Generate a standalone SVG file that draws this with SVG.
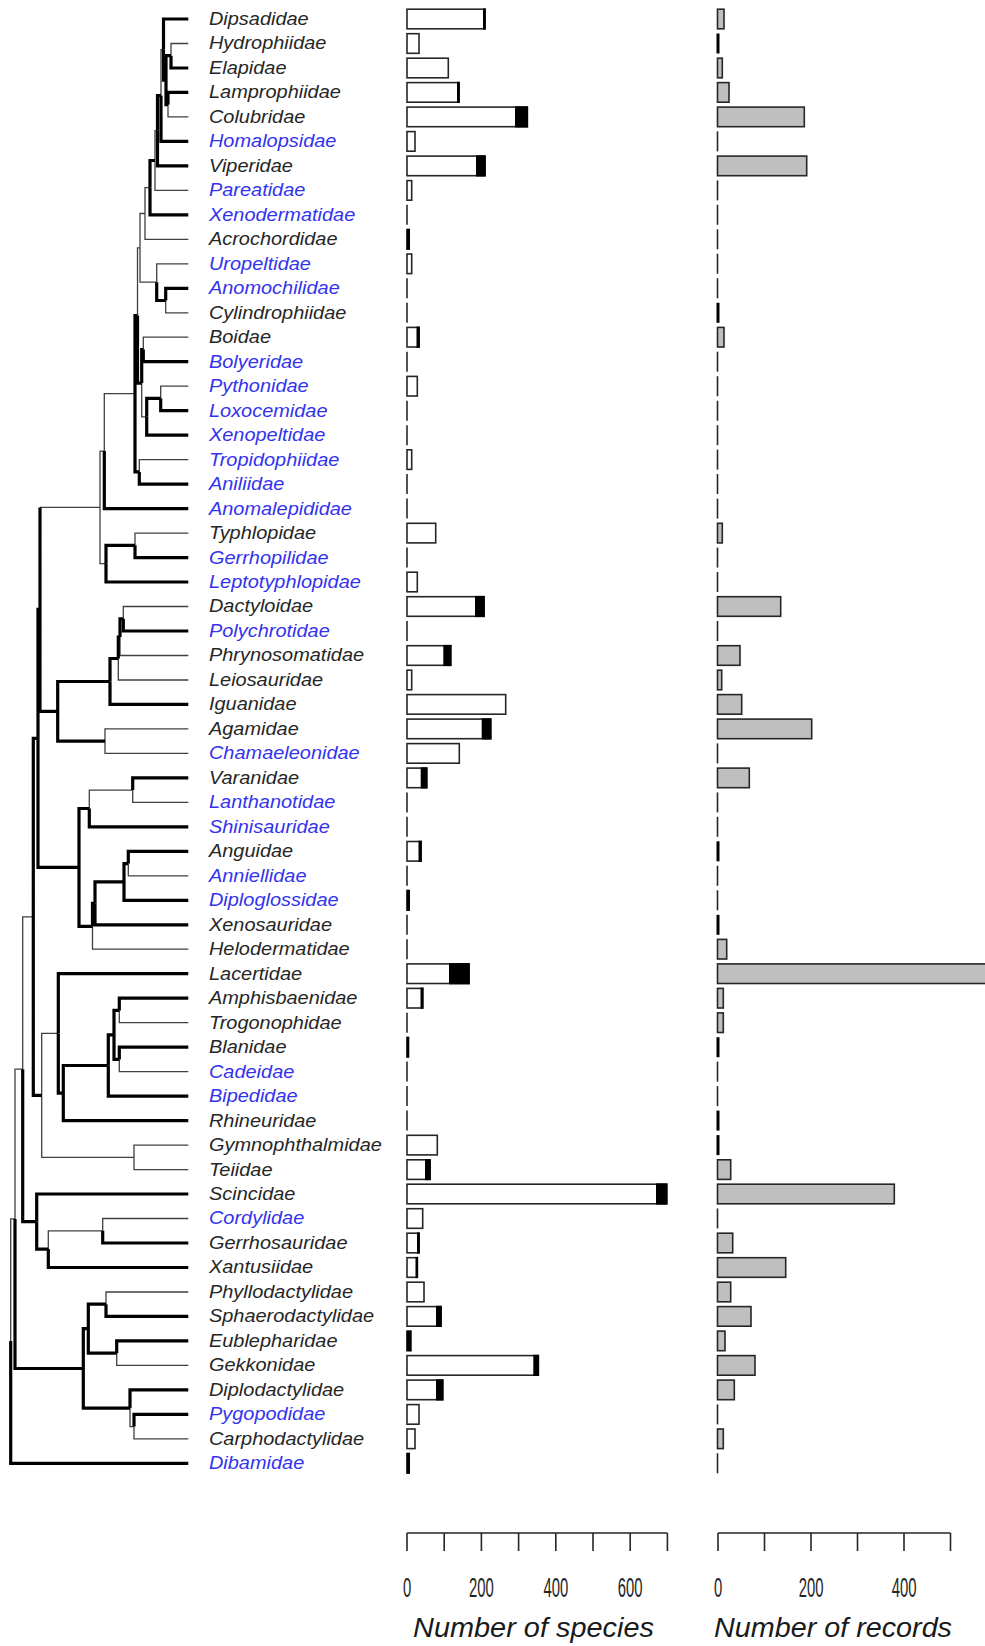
<svg xmlns="http://www.w3.org/2000/svg" width="985" height="1646" viewBox="0 0 985 1646">
<style>
.t{fill:none;stroke:#404040;stroke-width:1.3}
.T{fill:none;stroke:#000;stroke-width:3.2}
.lab{font-family:"Liberation Sans",Arial,sans-serif;font-style:italic;font-size:17.5px;fill:#262626}
.b{fill:#3333ee}
.sb{fill:#fff;stroke:#262626;stroke-width:1.6}
.rb{fill:#bfbfbf;stroke:#262626;stroke-width:1.6}
.k{fill:#000}
.z{stroke:#262626;stroke-width:1.6}
.zk{stroke:#000;stroke-width:3}
.ax{fill:none;stroke:#262626;stroke-width:1.6}
.num{font-family:"Liberation Sans",Arial,sans-serif;font-size:27px;fill:#262626;text-anchor:middle}
.ttl{font-family:"Liberation Sans",Arial,sans-serif;font-style:italic;font-size:28px;fill:#1a1a1a}
</style>
<rect width="985" height="1646" fill="#fff"/>
<g id="connectors">
<path class="t" d="M171 55.7V43.5H188.3M168 104.7V116.9H188.3M155 160.5V190.4H188.3M145 213.5V239.3H188.3M156.7 282.2V263.8H188.3M165.7 300.5V312.8H188.3M143.3 349.5V337.2H188.3M160.7 398.4V386.2H188.3M139.3 471.9V459.6H188.3M135 545.3V533.1H188.3M123.3 618.8V606.5H188.3M120 637.1V655.5H188.3M118.3 658.5V680H188.3M105 741.2V728.9H188.3M105 741.2V753.4H188.3M132.7 790.1V802.4H188.3M128.3 863.6V875.8H188.3M92.5 926.3V949.2H188.3M119.3 1010.4V1022.7H188.3M119.3 1059.4V1071.6H188.3M134 1157.3V1145.1H188.3M134 1157.3V1169.6H188.3M102.7 1230.8V1218.5H188.3M106 1304.2V1292H188.3M116.7 1353.2V1365.4H188.3M134 1426.6V1438.8H188.3"/>
<path class="t" d="M161 95.5V49.6H163.5M155 160.5V130.7H157.5M145 213.5V187.7H150M140 247.8V213.5H145M140 247.8V282.2H156.7M137.5 315.5V247.8H140M141.7 383.1V416.8H146.7M104.3 451.1V393.7H135M100 507.4V451.1H104.3M100 507.4V563.7H106M40 507.4H100M89.3 808.5V790.1H132.7M41.7 1095.4V1033.4H58.3M41.7 1095.4V1157.3H134M22.7 1069.2V916.9H33.3M48.3 1249.1V1230.8H102.7M15 1218.9V1069.2H22.7M130 1408.2V1426.6H134M10.7 1341.1V1218.9H15"/>
<path class="T" d="M163.5 49.6V19H188.3M171 55.7V68H188.3M168 104.7V92.4H188.3M161 95.5V141.4H188.3M157.5 130.7V165.9H188.3M150 187.7V214.8H188.3M165.7 300.5V288.3H188.3M143.3 349.5V361.7H188.3M160.7 398.4V410.7H188.3M146.7 416.8V435.2H188.3M139.3 471.9V484.1H188.3M104.3 451.1V508.6H188.3M135 545.3V557.6H188.3M106 563.7V582H188.3M123.3 618.8V631H188.3M110 681.5V704.4H188.3M132.7 790.1V777.9H188.3M89.3 808.5V826.8H188.3M128.3 863.6V851.3H188.3M124 881.9V900.3H188.3M95 903.3V924.8H188.3M58.3 1033.4V973.7H188.3M119.3 1010.4V998.2H188.3M119.3 1059.4V1047.2H188.3M108.3 1065.5V1096.1H188.3M63.3 1093.1V1120.6H188.3M36.7 1221.6V1194H188.3M102.7 1230.8V1243H188.3M48.3 1249.1V1267.5H188.3M106 1304.2V1316.4H188.3M116.7 1353.2V1340.9H188.3M130 1408.2V1389.9H188.3M134 1426.6V1414.4H188.3M10.7 1341.1V1463.3H188.3"/>
<path class="T" d="M166 80.2V55.7H171M166 80.2V104.7H168M163.5 49.6V80.2H166M157.5 130.7V95.5H161M150 187.7V160.5H155M156.7 282.2V300.5H165.7M137.5 315.5V383.1H141.7M141.7 383.1V349.5H143.3M146.7 416.8V398.4H160.7M135 393.7V315.5H137.5M135 393.7V471.9H139.3M106 563.7V545.3H135M40 609.4V507.4M40 609.4V711.3H57.7M57.7 711.3V681.5H110M57.7 711.3V741.2H105M110 681.5V658.5H118.3M118.3 658.5V637.1H120M120 637.1V618.8H123.3M38 738.4V609.4H40M38 738.4V867.4H79M79 867.4V808.5H89.3M79 867.4V926.3H92.5M92.5 926.3V903.3H95M95 903.3V881.9H124M124 881.9V863.6H128.3M33.3 916.9V738.4H38M33.3 916.9V1095.4H41.7M58.3 1033.4V1093.1H63.3M63.3 1093.1V1065.5H108.3M108.3 1065.5V1034.9H114M114 1034.9V1010.4H119.3M114 1034.9V1059.4H119.3M22.7 1069.2V1221.6H36.7M36.7 1221.6V1249.1H48.3M15 1218.9V1368.5H83.3M83.3 1368.5V1328.7H88.3M83.3 1368.5V1408.2H130M88.3 1328.7V1304.2H106M88.3 1328.7V1353.2H116.7"/>
</g>
<g id="taxa">
<g id="n1"><text class="lab" x="183.3" y="25" transform="scale(1.14,1)">Dipsadidae</text><rect class="sb" x="407" y="9.2" width="78" height="19.6"/><rect class="k" x="483" y="8.4" width="2.8" height="21.2"/><rect class="rb" x="717.5" y="9.2" width="6.5" height="19.6"/></g>
<g id="n2"><text class="lab" x="183.3" y="49.5" transform="scale(1.14,1)">Hydrophiidae</text><rect class="sb" x="407" y="33.7" width="12" height="19.6"/><line class="zk" x1="718" y1="33.5" x2="718" y2="53.5"/></g>
<g id="n3"><text class="lab" x="183.3" y="74" transform="scale(1.14,1)">Elapidae</text><rect class="sb" x="407" y="58.2" width="41.3" height="19.6"/><rect class="rb" x="717.5" y="58.2" width="4.8" height="19.6"/></g>
<g id="n4"><text class="lab" x="183.3" y="98.4" transform="scale(1.14,1)">Lamprophiidae</text><rect class="sb" x="407" y="82.6" width="52" height="19.6"/><rect class="k" x="457" y="81.8" width="2.8" height="21.2"/><rect class="rb" x="717.5" y="82.6" width="11.5" height="19.6"/></g>
<g id="n5"><text class="lab" x="183.3" y="122.9" transform="scale(1.14,1)">Colubridae</text><rect class="sb" x="407" y="107.1" width="120.3" height="19.6"/><rect class="k" x="515" y="106.3" width="13.1" height="21.2"/><rect class="rb" x="717.5" y="107.1" width="86.8" height="19.6"/></g>
<g id="n6"><text class="lab b" x="183.3" y="147.4" transform="scale(1.14,1)">Homalopsidae</text><rect class="sb" x="407" y="131.6" width="8" height="19.6"/><line class="z" x1="717.5" y1="131.4" x2="717.5" y2="151.4"/></g>
<g id="n7"><text class="lab" x="183.3" y="171.9" transform="scale(1.14,1)">Viperidae</text><rect class="sb" x="407" y="156.1" width="78" height="19.6"/><rect class="k" x="476" y="155.3" width="9.8" height="21.2"/><rect class="rb" x="717.5" y="156.1" width="89.2" height="19.6"/></g>
<g id="n8"><text class="lab b" x="183.3" y="196.4" transform="scale(1.14,1)">Pareatidae</text><rect class="sb" x="407" y="180.6" width="4.7" height="19.6"/><line class="z" x1="717.5" y1="180.4" x2="717.5" y2="200.4"/></g>
<g id="n9"><text class="lab b" x="183.3" y="220.8" transform="scale(1.14,1)">Xenodermatidae</text><line class="z" x1="407" y1="204.8" x2="407" y2="224.8"/><line class="z" x1="717.5" y1="204.8" x2="717.5" y2="224.8"/></g>
<g id="n10"><text class="lab" x="183.3" y="245.3" transform="scale(1.14,1)">Acrochordidae</text><rect class="k" x="406.2" y="228.7" width="3.8" height="21.2"/><line class="z" x1="717.5" y1="229.3" x2="717.5" y2="249.3"/></g>
<g id="n11"><text class="lab b" x="183.3" y="269.8" transform="scale(1.14,1)">Uropeltidae</text><rect class="sb" x="407" y="254" width="4.7" height="19.6"/><line class="z" x1="717.5" y1="253.8" x2="717.5" y2="273.8"/></g>
<g id="n12"><text class="lab b" x="183.3" y="294.3" transform="scale(1.14,1)">Anomochilidae</text><line class="z" x1="407" y1="278.3" x2="407" y2="298.3"/><line class="z" x1="717.5" y1="278.3" x2="717.5" y2="298.3"/></g>
<g id="n13"><text class="lab" x="183.3" y="318.8" transform="scale(1.14,1)">Cylindrophiidae</text><line class="z" x1="407" y1="302.8" x2="407" y2="322.8"/><line class="zk" x1="718" y1="302.8" x2="718" y2="322.8"/></g>
<g id="n14"><text class="lab" x="183.3" y="343.2" transform="scale(1.14,1)">Boidae</text><rect class="sb" x="407" y="327.4" width="12" height="19.6"/><rect class="k" x="416.5" y="326.6" width="3.3" height="21.2"/><rect class="rb" x="717.5" y="327.4" width="6.5" height="19.6"/></g>
<g id="n15"><text class="lab b" x="183.3" y="367.7" transform="scale(1.14,1)">Bolyeridae</text><line class="z" x1="407" y1="351.7" x2="407" y2="371.7"/><line class="z" x1="717.5" y1="351.7" x2="717.5" y2="371.7"/></g>
<g id="n16"><text class="lab b" x="183.3" y="392.2" transform="scale(1.14,1)">Pythonidae</text><rect class="sb" x="407" y="376.4" width="10.3" height="19.6"/><line class="z" x1="717.5" y1="376.2" x2="717.5" y2="396.2"/></g>
<g id="n17"><text class="lab b" x="183.3" y="416.7" transform="scale(1.14,1)">Loxocemidae</text><line class="z" x1="407" y1="400.7" x2="407" y2="420.7"/><line class="z" x1="717.5" y1="400.7" x2="717.5" y2="420.7"/></g>
<g id="n18"><text class="lab b" x="183.3" y="441.2" transform="scale(1.14,1)">Xenopeltidae</text><line class="z" x1="407" y1="425.2" x2="407" y2="445.2"/><line class="z" x1="717.5" y1="425.2" x2="717.5" y2="445.2"/></g>
<g id="n19"><text class="lab b" x="183.3" y="465.6" transform="scale(1.14,1)">Tropidophiidae</text><rect class="sb" x="407" y="449.8" width="4.7" height="19.6"/><line class="z" x1="717.5" y1="449.6" x2="717.5" y2="469.6"/></g>
<g id="n20"><text class="lab b" x="183.3" y="490.1" transform="scale(1.14,1)">Aniliidae</text><line class="z" x1="407" y1="474.1" x2="407" y2="494.1"/><line class="z" x1="717.5" y1="474.1" x2="717.5" y2="494.1"/></g>
<g id="n21"><text class="lab b" x="183.3" y="514.6" transform="scale(1.14,1)">Anomalepididae</text><line class="z" x1="407" y1="498.6" x2="407" y2="518.6"/><line class="z" x1="717.5" y1="498.6" x2="717.5" y2="518.6"/></g>
<g id="n22"><text class="lab" x="183.3" y="539.1" transform="scale(1.14,1)">Typhlopidae</text><rect class="sb" x="407" y="523.3" width="28.7" height="19.6"/><rect class="rb" x="717.5" y="523.3" width="4.8" height="19.6"/></g>
<g id="n23"><text class="lab b" x="183.3" y="563.6" transform="scale(1.14,1)">Gerrhopilidae</text><line class="z" x1="407" y1="547.6" x2="407" y2="567.6"/><line class="z" x1="717.5" y1="547.6" x2="717.5" y2="567.6"/></g>
<g id="n24"><text class="lab b" x="183.3" y="588" transform="scale(1.14,1)">Leptotyphlopidae</text><rect class="sb" x="407" y="572.2" width="10.3" height="19.6"/><line class="z" x1="717.5" y1="572" x2="717.5" y2="592"/></g>
<g id="n25"><text class="lab" x="183.3" y="612.5" transform="scale(1.14,1)">Dactyloidae</text><rect class="sb" x="407" y="596.7" width="77" height="19.6"/><rect class="k" x="475" y="595.9" width="9.8" height="21.2"/><rect class="rb" x="717.5" y="596.7" width="63.2" height="19.6"/></g>
<g id="n26"><text class="lab b" x="183.3" y="637" transform="scale(1.14,1)">Polychrotidae</text><line class="z" x1="407" y1="621" x2="407" y2="641"/><line class="z" x1="717.5" y1="621" x2="717.5" y2="641"/></g>
<g id="n27"><text class="lab" x="183.3" y="661.5" transform="scale(1.14,1)">Phrynosomatidae</text><rect class="sb" x="407" y="645.7" width="43.7" height="19.6"/><rect class="k" x="443.3" y="644.9" width="8.2" height="21.2"/><rect class="rb" x="717.5" y="645.7" width="22.5" height="19.6"/></g>
<g id="n28"><text class="lab" x="183.3" y="686" transform="scale(1.14,1)">Leiosauridae</text><rect class="sb" x="407" y="670.2" width="4.7" height="19.6"/><rect class="rb" x="717.5" y="670.2" width="4.2" height="19.6"/></g>
<g id="n29"><text class="lab" x="183.3" y="710.4" transform="scale(1.14,1)">Iguanidae</text><rect class="sb" x="407" y="694.6" width="98.7" height="19.6"/><rect class="rb" x="717.5" y="694.6" width="24.2" height="19.6"/></g>
<g id="n30"><text class="lab" x="183.3" y="734.9" transform="scale(1.14,1)">Agamidae</text><rect class="sb" x="407" y="719.1" width="83.7" height="19.6"/><rect class="k" x="481.7" y="718.3" width="9.8" height="21.2"/><rect class="rb" x="717.5" y="719.1" width="94.2" height="19.6"/></g>
<g id="n31"><text class="lab b" x="183.3" y="759.4" transform="scale(1.14,1)">Chamaeleonidae</text><rect class="sb" x="407" y="743.6" width="52.3" height="19.6"/><line class="z" x1="717.5" y1="743.4" x2="717.5" y2="763.4"/></g>
<g id="n32"><text class="lab" x="183.3" y="783.9" transform="scale(1.14,1)">Varanidae</text><rect class="sb" x="407" y="768.1" width="19.7" height="19.6"/><rect class="k" x="420.7" y="767.3" width="6.8" height="21.2"/><rect class="rb" x="717.5" y="768.1" width="31.8" height="19.6"/></g>
<g id="n33"><text class="lab b" x="183.3" y="808.4" transform="scale(1.14,1)">Lanthanotidae</text><line class="z" x1="407" y1="792.4" x2="407" y2="812.4"/><line class="z" x1="717.5" y1="792.4" x2="717.5" y2="812.4"/></g>
<g id="n34"><text class="lab b" x="183.3" y="832.8" transform="scale(1.14,1)">Shinisauridae</text><line class="z" x1="407" y1="816.8" x2="407" y2="836.8"/><line class="z" x1="717.5" y1="816.8" x2="717.5" y2="836.8"/></g>
<g id="n35"><text class="lab" x="183.3" y="857.3" transform="scale(1.14,1)">Anguidae</text><rect class="sb" x="407" y="841.5" width="14" height="19.6"/><rect class="k" x="418.5" y="840.7" width="3.3" height="21.2"/><line class="zk" x1="718" y1="841.3" x2="718" y2="861.3"/></g>
<g id="n36"><text class="lab b" x="183.3" y="881.8" transform="scale(1.14,1)">Anniellidae</text><line class="z" x1="407" y1="865.8" x2="407" y2="885.8"/><line class="z" x1="717.5" y1="865.8" x2="717.5" y2="885.8"/></g>
<g id="n37"><text class="lab b" x="183.3" y="906.3" transform="scale(1.14,1)">Diploglossidae</text><rect class="k" x="406.2" y="889.7" width="3.8" height="21.2"/><line class="z" x1="717.5" y1="890.3" x2="717.5" y2="910.3"/></g>
<g id="n38"><text class="lab" x="183.3" y="930.8" transform="scale(1.14,1)">Xenosauridae</text><line class="z" x1="407" y1="914.8" x2="407" y2="934.8"/><line class="zk" x1="718" y1="914.8" x2="718" y2="934.8"/></g>
<g id="n39"><text class="lab" x="183.3" y="955.2" transform="scale(1.14,1)">Helodermatidae</text><line class="z" x1="407" y1="939.2" x2="407" y2="959.2"/><rect class="rb" x="717.5" y="939.4" width="9.2" height="19.6"/></g>
<g id="n40"><text class="lab" x="183.3" y="979.7" transform="scale(1.14,1)">Lacertidae</text><rect class="sb" x="407" y="963.9" width="62" height="19.6"/><rect class="k" x="449" y="963.1" width="20.8" height="21.2"/><rect class="rb" x="717.5" y="963.9" width="280" height="19.6"/></g>
<g id="n41"><text class="lab" x="183.3" y="1004.2" transform="scale(1.14,1)">Amphisbaenidae</text><rect class="sb" x="407" y="988.4" width="15.7" height="19.6"/><rect class="k" x="420.5" y="987.6" width="3" height="21.2"/><rect class="rb" x="717.5" y="988.4" width="5.8" height="19.6"/></g>
<g id="n42"><text class="lab" x="183.3" y="1028.7" transform="scale(1.14,1)">Trogonophidae</text><line class="z" x1="407" y1="1012.7" x2="407" y2="1032.7"/><rect class="rb" x="717.5" y="1012.9" width="5.8" height="19.6"/></g>
<g id="n43"><text class="lab" x="183.3" y="1053.2" transform="scale(1.14,1)">Blanidae</text><rect class="k" x="406.2" y="1036.6" width="3.1" height="21.2"/><line class="zk" x1="718" y1="1037.2" x2="718" y2="1057.2"/></g>
<g id="n44"><text class="lab b" x="183.3" y="1077.6" transform="scale(1.14,1)">Cadeidae</text><line class="z" x1="407" y1="1061.6" x2="407" y2="1081.6"/><line class="z" x1="717.5" y1="1061.6" x2="717.5" y2="1081.6"/></g>
<g id="n45"><text class="lab b" x="183.3" y="1102.1" transform="scale(1.14,1)">Bipedidae</text><line class="z" x1="407" y1="1086.1" x2="407" y2="1106.1"/><line class="z" x1="717.5" y1="1086.1" x2="717.5" y2="1106.1"/></g>
<g id="n46"><text class="lab" x="183.3" y="1126.6" transform="scale(1.14,1)">Rhineuridae</text><line class="z" x1="407" y1="1110.6" x2="407" y2="1130.6"/><line class="zk" x1="718" y1="1110.6" x2="718" y2="1130.6"/></g>
<g id="n47"><text class="lab" x="183.3" y="1151.1" transform="scale(1.14,1)">Gymnophthalmidae</text><rect class="sb" x="407" y="1135.3" width="30.3" height="19.6"/><line class="zk" x1="718" y1="1135.1" x2="718" y2="1155.1"/></g>
<g id="n48"><text class="lab" x="183.3" y="1175.6" transform="scale(1.14,1)">Teiidae</text><rect class="sb" x="407" y="1159.8" width="23" height="19.6"/><rect class="k" x="425" y="1159" width="5.8" height="21.2"/><rect class="rb" x="717.5" y="1159.8" width="13.2" height="19.6"/></g>
<g id="n49"><text class="lab" x="183.3" y="1200" transform="scale(1.14,1)">Scincidae</text><rect class="sb" x="407" y="1184.2" width="259.7" height="19.6"/><rect class="k" x="656" y="1183.4" width="11.5" height="21.2"/><rect class="rb" x="717.5" y="1184.2" width="176.8" height="19.6"/></g>
<g id="n50"><text class="lab b" x="183.3" y="1224.5" transform="scale(1.14,1)">Cordylidae</text><rect class="sb" x="407" y="1208.7" width="15.7" height="19.6"/><line class="z" x1="717.5" y1="1208.5" x2="717.5" y2="1228.5"/></g>
<g id="n51"><text class="lab" x="183.3" y="1249" transform="scale(1.14,1)">Gerrhosauridae</text><rect class="sb" x="407" y="1233.2" width="12" height="19.6"/><rect class="k" x="417" y="1232.4" width="2.8" height="21.2"/><rect class="rb" x="717.5" y="1233.2" width="15.2" height="19.6"/></g>
<g id="n52"><text class="lab" x="183.3" y="1273.5" transform="scale(1.14,1)">Xantusiidae</text><rect class="sb" x="407" y="1257.7" width="10.3" height="19.6"/><rect class="k" x="415.5" y="1256.9" width="2.6" height="21.2"/><rect class="rb" x="717.5" y="1257.7" width="68.2" height="19.6"/></g>
<g id="n53"><text class="lab" x="183.3" y="1298" transform="scale(1.14,1)">Phyllodactylidae</text><rect class="sb" x="407" y="1282.2" width="17" height="19.6"/><rect class="rb" x="717.5" y="1282.2" width="13.2" height="19.6"/></g>
<g id="n54"><text class="lab" x="183.3" y="1322.4" transform="scale(1.14,1)">Sphaerodactylidae</text><rect class="sb" x="407" y="1306.6" width="34" height="19.6"/><rect class="k" x="436" y="1305.8" width="5.8" height="21.2"/><rect class="rb" x="717.5" y="1306.6" width="33.5" height="19.6"/></g>
<g id="n55"><text class="lab" x="183.3" y="1346.9" transform="scale(1.14,1)">Eublepharidae</text><rect class="k" x="406.2" y="1330.3" width="5.5" height="21.2"/><rect class="rb" x="717.5" y="1331.1" width="7.5" height="19.6"/></g>
<g id="n56"><text class="lab" x="183.3" y="1371.4" transform="scale(1.14,1)">Gekkonidae</text><rect class="sb" x="407" y="1355.6" width="131.3" height="19.6"/><rect class="k" x="533.3" y="1354.8" width="5.8" height="21.2"/><rect class="rb" x="717.5" y="1355.6" width="37.5" height="19.6"/></g>
<g id="n57"><text class="lab" x="183.3" y="1395.9" transform="scale(1.14,1)">Diplodactylidae</text><rect class="sb" x="407" y="1380.1" width="35.7" height="19.6"/><rect class="k" x="436" y="1379.3" width="7.5" height="21.2"/><rect class="rb" x="717.5" y="1380.1" width="16.8" height="19.6"/></g>
<g id="n58"><text class="lab b" x="183.3" y="1420.4" transform="scale(1.14,1)">Pygopodidae</text><rect class="sb" x="407" y="1404.6" width="12" height="19.6"/><line class="z" x1="717.5" y1="1404.4" x2="717.5" y2="1424.4"/></g>
<g id="n59"><text class="lab" x="183.3" y="1444.8" transform="scale(1.14,1)">Carphodactylidae</text><rect class="sb" x="407" y="1429" width="8" height="19.6"/><rect class="rb" x="717.5" y="1429" width="5.8" height="19.6"/></g>
<g id="n60"><text class="lab b" x="183.3" y="1469.3" transform="scale(1.14,1)">Dibamidae</text><rect class="k" x="406.2" y="1452.7" width="3.8" height="21.2"/><line class="z" x1="717.5" y1="1453.3" x2="717.5" y2="1473.3"/></g>
</g>
<g id="axis-species">
<path class="ax" d="M407 1533H667.4M407 1533V1551M444.2 1533V1551M481.4 1533V1551M518.6 1533V1551M555.8 1533V1551M593 1533V1551M630.2 1533V1551M667.4 1533V1551"/>
<text class="num" transform="translate(407,1597) scale(0.55,1)">0</text>
<text class="num" transform="translate(481.4,1597) scale(0.55,1)">200</text>
<text class="num" transform="translate(555.8,1597) scale(0.55,1)">400</text>
<text class="num" transform="translate(630.2,1597) scale(0.55,1)">600</text>
<text class="ttl" x="413" y="1637" textLength="241" lengthAdjust="spacingAndGlyphs">Number of species</text>
</g>
<g id="axis-records">
<path class="ax" d="M718 1533H950.5M718 1533V1551M764.5 1533V1551M811 1533V1551M857.5 1533V1551M904 1533V1551M950.5 1533V1551"/>
<text class="num" transform="translate(718,1597) scale(0.55,1)">0</text>
<text class="num" transform="translate(811,1597) scale(0.55,1)">200</text>
<text class="num" transform="translate(904,1597) scale(0.55,1)">400</text>
<text class="ttl" x="714" y="1637" textLength="238" lengthAdjust="spacingAndGlyphs">Number of records</text>
</g>
</svg>
